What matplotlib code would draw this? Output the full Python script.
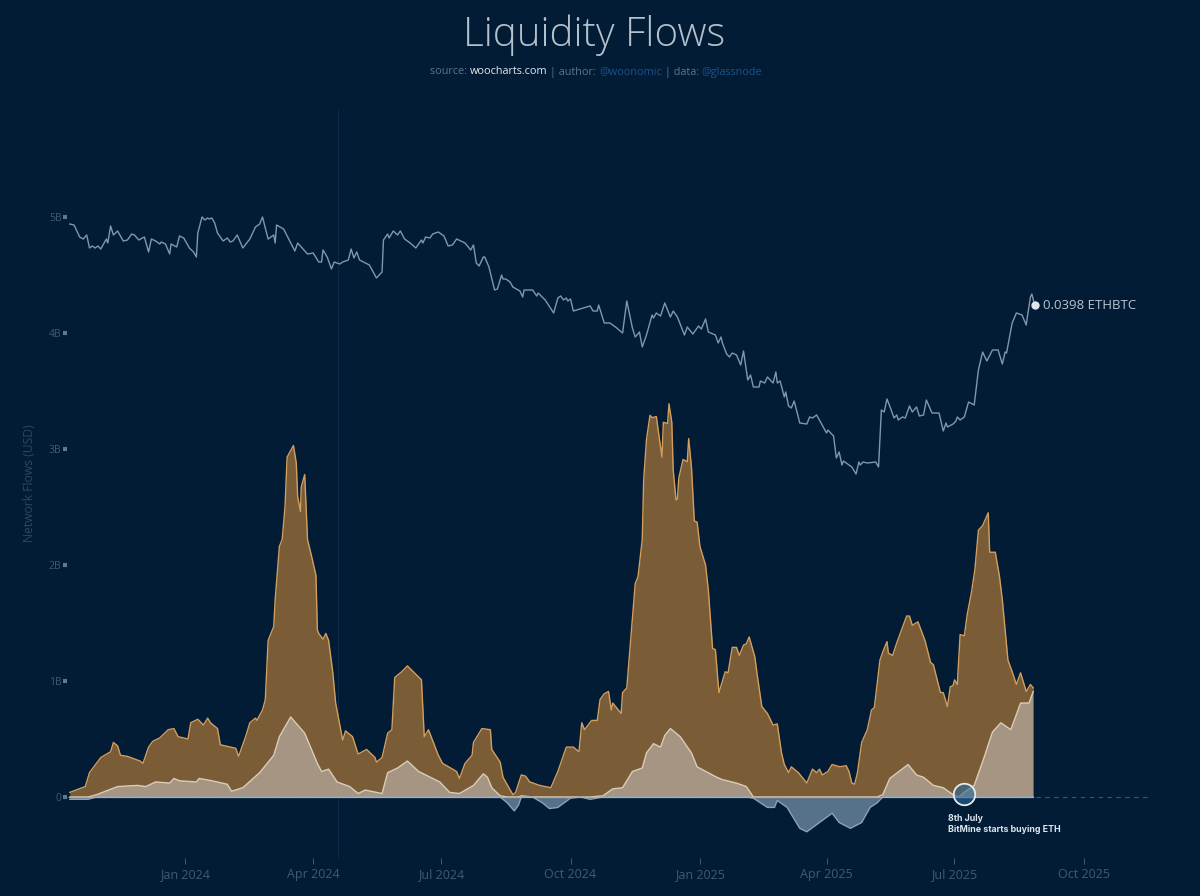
import numpy as np
import pandas as pd
import matplotlib
matplotlib.use('Agg')
import matplotlib.pyplot as plt

# days are counted from 2024-01-01, flows are in billions of USD
flow_days = [-82, -71, -68, -60, -53, -51, -48, -46, -41, -32, -30, -26, -23, -18, -12, -8, -5, 2, 4, 9, 13, 16, 18, 23, 25, 36, 38, 43, 46, 50, 51, 55, 57, 59, 60, 63, 64, 67, 69, 71, 72.5, 77, 79, 80, 82, 82.5, 85, 86, 87, 90, 93, 94, 95, 98, 100, 102, 105, 107, 112, 114, 119, 123, 129, 135, 136, 140, 144, 147, 149, 154, 158, 168, 170, 173, 180, 183, 193, 195, 199, 204, 205, 211, 217, 218, 224, 226, 233, 235, 239, 242, 245, 252, 260, 265, 271, 276, 280, 282, 284, 289, 293, 295, 298, 301, 303, 304, 310, 311, 314, 316, 320, 322, 325, 326, 328, 330.5, 332, 335, 339, 340, 343, 344, 346, 347, 349, 350, 351, 354, 357, 358, 360, 362, 364, 366, 370, 372, 375, 377, 379.5, 384, 386, 389, 392, 394, 397, 399, 401, 405, 407, 410, 414, 418, 421, 424, 426, 429, 431, 436, 442, 446, 449, 451, 453, 457, 460, 465.5, 470, 472, 474, 476, 478, 481, 485, 488, 490, 494, 496, 499, 500, 503, 506, 510, 513, 515, 517, 521, 526, 530, 532, 537, 539, 542, 544, 546, 547, 549, 551, 554, 556, 559, 561.5, 564, 567, 571, 572, 576, 579, 581, 585, 588, 591, 594, 598, 601, 603]
total_flow = [0.04, 0.09, 0.21, 0.34, 0.39, 0.47, 0.44, 0.36, 0.35, 0.31, 0.29, 0.43, 0.48, 0.51, 0.58, 0.59, 0.52, 0.50, 0.64, 0.67, 0.62, 0.68, 0.64, 0.59, 0.45, 0.42, 0.35, 0.52, 0.64, 0.68, 0.66, 0.75, 0.84, 1.35, 1.38, 1.47, 1.70, 2.16, 2.22, 2.50, 2.93, 3.03, 2.88, 2.59, 2.46, 2.67, 2.78, 2.50, 2.22, 2.07, 1.91, 1.44, 1.41, 1.36, 1.41, 1.35, 1.07, 0.81, 0.49, 0.57, 0.52, 0.37, 0.41, 0.34, 0.30, 0.34, 0.55, 0.58, 1.03, 1.08, 1.13, 1.01, 0.52, 0.58, 0.36, 0.29, 0.22, 0.16, 0.29, 0.36, 0.47, 0.59, 0.58, 0.41, 0.30, 0.17, 0.02, 0.04, 0.19, 0.18, 0.13, 0.10, 0.08, 0.22, 0.43, 0.43, 0.39, 0.64, 0.58, 0.66, 0.66, 0.84, 0.89, 0.91, 0.75, 0.81, 0.72, 0.90, 0.94, 1.24, 1.84, 1.90, 2.22, 2.73, 3.08, 3.29, 3.27, 3.28, 2.93, 3.23, 3.22, 3.39, 3.23, 2.82, 2.56, 2.57, 2.75, 2.91, 2.89, 3.09, 2.84, 2.38, 2.37, 2.16, 2.00, 1.78, 1.28, 1.27, 0.90, 1.08, 1.07, 1.29, 1.29, 1.22, 1.31, 1.32, 1.38, 1.21, 1.03, 0.78, 0.72, 0.62, 0.63, 0.38, 0.28, 0.21, 0.26, 0.21, 0.12, 0.24, 0.21, 0.24, 0.19, 0.22, 0.28, 0.26, 0.27, 0.22, 0.12, 0.11, 0.21, 0.47, 0.58, 0.75, 0.77, 1.18, 1.25, 1.34, 1.24, 1.22, 1.33, 1.46, 1.56, 1.56, 1.48, 1.51, 1.35, 1.16, 1.14, 0.90, 0.90, 0.78, 0.95, 0.96, 1.01, 0.97, 1.40, 1.39, 1.57, 1.76, 1.96, 2.30, 2.34, 2.45, 2.11, 2.11, 1.90, 1.70, 1.18, 1.08, 0.97, 1.07, 0.91, 0.97, 0.94]

net_days = [-82, -69, -63, -48, -34, -28, -21, -11, -8, -4, 8, 10, 19, 30, 33, 41, 53, 63, 67, 75, 85, 94, 97, 102, 108, 117, 123, 128, 140, 144, 151, 158, 166, 171, 181, 188, 195, 205, 212, 215, 218, 224, 229, 234, 237, 239, 247, 254, 259, 265, 274, 281, 288, 297, 304, 311, 318, 325, 328, 333, 338, 341, 345, 352, 360, 364, 378, 382, 392, 399, 404, 414, 419, 421, 428, 437, 442, 451, 460, 465, 473, 481, 487, 492, 496, 501, 514, 520, 525, 532, 539, 546, 550, 555, 561, 568, 574, 580, 587, 594, 600, 603]
net_flow = [-0.02, -0.02, 0.02, 0.09, 0.10, 0.09, 0.13, 0.12, 0.16, 0.14, 0.13, 0.16, 0.14, 0.11, 0.05, 0.08, 0.21, 0.36, 0.52, 0.69, 0.55, 0.29, 0.22, 0.24, 0.13, 0.09, 0.03, 0.06, 0.03, 0.21, 0.25, 0.31, 0.22, 0.19, 0.13, 0.04, 0.03, 0.10, 0.20, 0.17, 0.08, 0.01, -0.05, -0.12, -0.07, 0.01, 0.00, -0.05, -0.10, -0.09, -0.01, 0.00, -0.02, 0.01, 0.07, 0.08, 0.22, 0.25, 0.38, 0.46, 0.43, 0.53, 0.59, 0.52, 0.38, 0.26, 0.17, 0.15, 0.12, 0.09, -0.01, -0.09, -0.09, -0.03, -0.09, -0.27, -0.30, -0.22, -0.14, -0.22, -0.27, -0.22, -0.09, -0.05, 0.02, 0.16, 0.28, 0.19, 0.17, 0.10, 0.08, 0.02, 0.00, 0.05, 0.10, 0.34, 0.56, 0.64, 0.58, 0.81, 0.81, 0.91]

eth_days = [-82, -79, -75, -72.5, -70, -68, -66, -64, -62, -60, -56, -55, -53, -51, -48, -44, -41, -38, -36, -33, -29, -26, -24, -21, -18, -17, -14, -11, -10, -6, -4, -1, 3, 6, 8, 9, 12, 14, 16, 17, 19, 21, 23, 27, 30, 32, 34, 37, 41, 46, 50, 53, 55, 59, 63, 64, 65, 70, 78, 80, 87, 91, 95, 97, 98, 101, 104, 106, 110, 112, 116, 118, 120, 122, 124, 131, 136, 140, 141, 144, 145, 148, 151, 153, 156, 160, 164, 168, 169, 171, 174, 176, 180, 184, 187, 190, 193, 199, 203, 205, 207, 209, 212, 213, 216, 220, 222, 225, 226, 228, 231, 233, 238, 240, 241, 247, 250, 251, 256, 262, 265, 267, 269, 271, 272, 274, 276, 283, 288, 290, 293, 294, 298, 302, 306, 311, 314, 318, 320, 323, 325, 328, 332, 333, 335, 338, 341, 345, 347, 350, 355, 357, 361, 365, 367, 370, 372, 377, 379, 381, 382, 385, 387, 389, 392, 395, 397, 400, 402, 404, 408, 409, 412, 414, 418, 420, 421, 423, 426, 427, 429, 431, 433, 437, 442, 444, 446, 449, 456, 457, 461, 463, 465, 467, 468, 470, 474, 477, 479, 480, 482, 485, 491, 493, 495, 497, 499, 502, 504, 506, 507, 510, 512, 515, 517, 520, 522, 525, 527, 531, 536, 539, 541, 542, 546, 548, 549, 551, 554, 557, 561, 564, 567, 570, 574, 578, 581, 583, 584, 588, 591, 595, 598, 599, 601, 602, 604]
# the picture has no ETHBTC axis, only the last value, so the scale is estimated from it
eth_btc = np.array([479, 478, 466, 464, 468, 455, 457, 455, 457, 454, 464, 460, 477, 468, 472, 462, 463, 469, 468, 463, 466, 451, 464, 462, 459, 461, 459, 449, 459, 456, 467, 465, 455, 451, 446, 470, 486, 483, 485, 484, 485, 480, 470, 462, 465, 461, 462, 468, 455, 464, 476, 479, 486, 464, 468, 460, 478, 474, 452, 460, 449, 450, 441, 441, 453, 446, 434, 441, 439, 441, 443, 454, 445, 451, 443, 438, 425, 431, 463, 469, 465, 472, 468, 472, 464, 460, 455, 463, 460, 466, 465, 469, 471, 467, 457, 458, 464, 460, 453, 458, 440, 437, 446, 446, 436, 413, 414, 428, 424, 424, 421, 416, 412, 406, 413, 413, 407, 410, 403, 390, 405, 407, 403, 405, 402, 404, 392, 395, 397, 392, 392, 398, 380, 380, 376, 370, 402, 375, 366, 371, 356, 368, 388, 385, 390, 387, 400, 386, 392, 386, 368, 376, 369, 377, 374, 384, 371, 368, 360, 366, 360, 349, 346, 350, 348, 338, 352, 323, 328, 316, 316, 322, 320, 326, 320, 331, 320, 322, 306, 311, 297, 295, 302, 280, 279, 286, 285, 288, 270, 273, 267, 245, 251, 238, 242, 240, 236, 229, 241, 238, 241, 240, 241, 236, 293, 291, 304, 293, 285, 288, 283, 286, 285, 297, 291, 296, 287, 288, 303, 290, 290, 272, 280, 276, 279, 282, 286, 283, 286, 301, 298, 333, 351, 342, 353, 353, 339, 351, 350, 380, 390, 388, 378, 388, 406, 409, 398]) / 10000

tick_dates = ['2024-01-01', '2024-04-01', '2024-07-01', '2024-10-01', '2025-01-01', '2025-04-01', '2025-07-01', '2025-10-01']
tick_labels = ['Jan 2024', 'Apr 2024', 'Jul 2024', 'Oct 2024', 'Jan 2025', 'Apr 2025', 'Jul 2025', 'Oct 2025']
y_ticks = [0, 1, 2, 3, 4, 5]
y_labels = ['0', '1B', '2B', '3B', '4B', '5B']


def to_dates(days):
    return pd.Timestamp('2024-01-01') + pd.to_timedelta(np.array(days, dtype=float), unit='D')


plt.rcParams['font.family'] = ['Open Sans', 'DejaVu Sans']
BG = '#021c36'

fig = plt.figure(figsize=(12, 8.96), dpi=100, facecolor=BG)
ax = fig.add_axes([67 / 1200, 1 - 858 / 896, (1150 - 67) / 1200, (858 - 110) / 896], facecolor=BG)
for s in ax.spines.values():
    s.set_visible(False)

flow_x = to_dates(flow_days)
net_x = to_dates(net_days)
total = np.array(total_flow)
net = np.array(net_flow)

ax.axvline(pd.Timestamp('2024-04-19'), color='#0e2b47', lw=0.8, zorder=1)
ax.axhline(0, color='#3d566e', lw=0.8, ls=(0, (4, 4)), zorder=1)

ax.fill_between(flow_x, 0, total, color='#7a5c37', lw=0, zorder=2)
ax.plot(flow_x, total, color='#d39e5e', lw=1.0, zorder=3)
ax.fill_between(net_x, 0, net, where=net >= 0, interpolate=True, color='#a59582', lw=0, zorder=4)
ax.fill_between(net_x, 0, net, where=net <= 0, interpolate=True, color='#56718a', lw=0, zorder=4)
ax.plot(net_x, np.maximum(net, 0), color='#d9cdb9', lw=1.0, zorder=5)
ax.plot(net_x, np.minimum(net, 0), color='#8aa2b6', lw=1.0, zorder=5)
ax.plot(to_dates([flow_days[0], flow_days[-1]]), [0, 0], color='#b5ad9f', lw=0.9, zorder=5)

ax.set_xlim(pd.Timestamp('2024-01-01') + pd.Timedelta(days=-84), pd.Timestamp('2024-01-01') + pd.Timedelta(days=686))
ax.set_ylim(-61 / 116, 687 / 116)
ax.set_xticks(pd.to_datetime(tick_dates))
ax.set_xticklabels(tick_labels, fontsize=9, color='#415a73')
ax.set_yticks(y_ticks)
ax.set_yticklabels(y_labels, fontsize=7.5, color='#415a73')
ax.tick_params(axis='x', length=4, width=0.7, color='#415a73', pad=3)
ax.tick_params(axis='y', length=3, width=3, color='#5f7890', pad=1)
ax.set_ylabel('Network Flows (USD)', fontsize=8.7, color='#2f4760')
ax.yaxis.set_label_coords(-0.0286, 0.501)

# ETHBTC on its own hidden scale
ax2 = ax.twinx()
for s in ax2.spines.values():
    s.set_visible(False)
ax2.set_ylim(-0.0155, 0.0593)
ax2.set_yticks([])
ax2.patch.set_visible(False)
eth_x = to_dates(eth_days)
ax2.plot(eth_x, eth_btc, color='#7f98ae', lw=1.0, zorder=3)
ax2.scatter(eth_x[-1], eth_btc[-1], s=36, color='#dfe5ea', zorder=4, linewidths=0)
ax2.annotate('%.4f ETHBTC' % eth_btc[-1], (eth_x[-1], eth_btc[-1]), xytext=(6, 0), textcoords='offset points',
             va='center', ha='left', fontsize=9.5, color='#b9c4ce')

# BitMine marker
ax2.set_zorder(ax.get_zorder() + 1)
event = pd.Timestamp('2025-07-08')
ax.scatter([event], [0.03], s=240, facecolor=(0.18, 0.42, 0.6, 0.6), edgecolor='#e4ecf2', linewidths=1.3, zorder=6)
ax.annotate('8th July\nBitMine starts buying ETH', (event, 0), xytext=(-12, -12.5), textcoords='offset points',
            va='top', ha='left', fontsize=6.4, fontweight='bold', color='#dbe5ee', family=['Inter', 'DejaVu Sans'],
            linespacing=1.3)

fig.text(594.5 / 1200, 1 - 35 / 896, 'Liquidity Flows', ha='center', va='center', fontsize=29, color='#b4c0cc',
         fontweight='light')

# subtitle is several colours, so lay it out piece by piece
pieces = [('source:\u00a0', '#5f7488'), ('woocharts.com', '#e2e8ee'), ('\u00a0|\u00a0author:\u00a0', '#5f7488'),
          ('@woonomic', '#1c5288'), ('\u00a0|\u00a0data:\u00a0', '#5f7488'), ('@glassnode', '#1c5288')]
fig.canvas.draw()
renderer = fig.canvas.get_renderer()
cur = 430
for txt, col in pieces:
    t = fig.text(cur / 1200, 1 - 72 / 896, txt, ha='left', va='center', fontsize=7.85, color=col)
    cur = t.get_window_extent(renderer).x1

fig.savefig('out.png', dpi=100, facecolor=BG)
